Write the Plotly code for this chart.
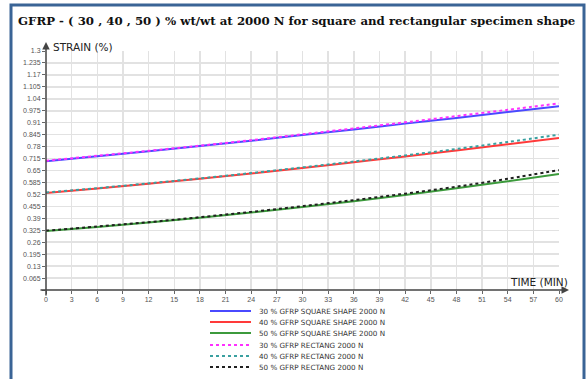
import plotly.graph_objects as go

time_min = [0, 6, 12, 18, 24, 30, 36, 42, 48, 54, 60]
sq30 = [0.700, 0.728, 0.755, 0.783, 0.812, 0.843, 0.873, 0.905, 0.936, 0.968, 1.000]
sq40 = [0.527, 0.552, 0.578, 0.605, 0.634, 0.664, 0.695, 0.726, 0.759, 0.793, 0.827]
sq50 = [0.321, 0.343, 0.367, 0.393, 0.421, 0.451, 0.483, 0.517, 0.553, 0.591, 0.631]
re30 = [0.703, 0.730, 0.757, 0.785, 0.815, 0.847, 0.879, 0.912, 0.946, 0.980, 1.015]
re40 = [0.530, 0.554, 0.580, 0.607, 0.636, 0.667, 0.699, 0.732, 0.767, 0.805, 0.845]
re50 = [0.323, 0.345, 0.369, 0.396, 0.425, 0.456, 0.489, 0.524, 0.562, 0.605, 0.652]

x_ticks = list(range(0, 61, 3))
y_ticks = [round(0.065 * i, 3) for i in range(0, 21)]
y_labels = ["" if v == 0 else ("%g" % v) for v in y_ticks]

series = [
    ("30 % GFRP SQUARE SHAPE 2000 N", sq30, "#4a4aff", "solid"),
    ("40 % GFRP SQUARE SHAPE 2000 N", sq40, "#ff3a3a", "solid"),
    ("50 % GFRP SQUARE SHAPE 2000 N", sq50, "#3c9a3c", "solid"),
    ("30 % GFRP RECTANG 2000 N", re30, "#ff30ff", "dot"),
    ("40 % GFRP RECTANG 2000 N", re40, "#3aa0a0", "dot"),
    ("50 % GFRP RECTANG 2000 N", re50, "#202020", "dot"),
]

W, H = 586, 379
ML, MR, MT, MB = 46, 27, 51, 89
PW, PH = W - ML - MR, H - MT - MB


def px(xp):
    return (xp - ML) / PW


def py(yp):
    return (H - MB - yp) / PH


fig = go.Figure()
for name, ys, col, dash in series:
    fig.add_trace(go.Scatter(x=time_min, y=ys, mode="lines", name=name, showlegend=False,
                             line=dict(color=col, width=2, dash=dash, shape="spline")))

axis_font = dict(family="Liberation Sans, Arial, sans-serif", size=7, color="#555555")
fig.update_layout(
    width=W, height=H,
    margin=dict(l=ML, r=MR, t=MT, b=MB, autoexpand=False),
    paper_bgcolor="white", plot_bgcolor="white",
    showlegend=False,
    xaxis=dict(range=[0, 60], tickvals=x_ticks, ticktext=[str(v) for v in x_ticks],
               showgrid=True, gridcolor="#e2e2e2", gridwidth=1.5, zeroline=False,
               showline=False, ticks="outside", ticklen=3, tickcolor="#666666",
               tickfont=axis_font, fixedrange=True),
    yaxis=dict(range=[0, 1.3], tickvals=y_ticks, ticktext=y_labels,
               showgrid=True, gridcolor="#e2e2e2", gridwidth=1.5, zeroline=False,
               showline=False, ticks="outside", ticklen=3, tickcolor="#666666",
               tickfont=axis_font, fixedrange=True),
)

# axis lines with arrows
fig.add_annotation(x=px(569), y=0, xref="paper", yref="paper", ax=-530, ay=0,
                   axref="pixel", ayref="pixel", showarrow=True, arrowhead=2,
                   arrowsize=1, arrowwidth=1.5, arrowcolor="#444444", text="")
fig.add_annotation(x=0, y=py(42), xref="paper", yref="paper", ax=0, ay=255,
                   axref="pixel", ayref="pixel", showarrow=True, arrowhead=2,
                   arrowsize=1, arrowwidth=1.5, arrowcolor="#444444", text="")

title_font = dict(family="DejaVu Sans, sans-serif", size=10.5, color="#222222")
fig.add_annotation(x=px(51), y=py(47), xref="paper", yref="paper", xanchor="left", yanchor="middle",
                   text="STRAIN (%)", showarrow=False, font=title_font)
fig.add_annotation(x=px(570), y=py(282), xref="paper", yref="paper", xanchor="right", yanchor="middle",
                   text="TIME (MIN)", showarrow=False, font=title_font)

fig.add_annotation(x=px(16), y=py(21), xref="paper", yref="paper", xanchor="left", yanchor="middle",
                   text="<b>GFRP - ( 30 , 40 , 50 ) % wt/wt at 2000 N for square and rectangular specimen shape</b>",
                   showarrow=False,
                   font=dict(family="DejaVu Serif, serif", size=11.75, color="#111111"))

# legend (drawn below the plot)
leg_font = dict(family="DejaVu Sans, sans-serif", size=7.2, color="#333333")
row_y = [311, 322, 333, 345, 356, 367]
for (name, ys, col, dash), yy in zip(series, row_y):
    fig.add_shape(type="line", xref="paper", yref="paper", x0=px(210), x1=px(251),
                  y0=py(yy), y1=py(yy), line=dict(color=col, width=2, dash=dash))
    fig.add_annotation(x=px(257), y=py(yy), xref="paper", yref="paper", xanchor="left",
                       yanchor="middle", text=name, showarrow=False, font=leg_font)

# frame
fig.add_shape(type="rect", xref="paper", yref="paper", x0=px(11), x1=px(584), y0=py(420), y1=py(5),
              line=dict(color="#3a6496", width=3), fillcolor="rgba(0,0,0,0)", layer="above")

fig.write_html("out.html", config={"displayModeBar": False, "staticPlot": True},
               post_script="document.body.style.margin='0';document.body.style.overflow='hidden';")
